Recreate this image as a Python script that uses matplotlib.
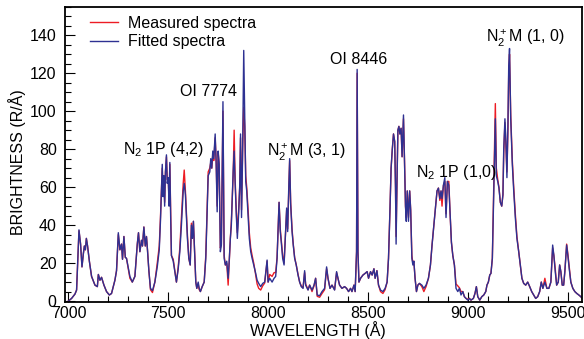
import matplotlib
matplotlib.use("Agg")
import matplotlib.pyplot as plt
from matplotlib.ticker import MultipleLocator

plt.rcParams['font.family'] = ['Liberation Sans', 'DejaVu Sans']
plt.rcParams['mathtext.fontset'] = 'custom'
plt.rcParams['mathtext.rm'] = 'Liberation Sans'
plt.rcParams['mathtext.it'] = 'Liberation Sans:italic'

# wavelength grid (Angstrom)
wavelength = [
    7000, 7016, 7033, 7041, 7053, 7061, 7068, 7075, 7080, 7085,
    7090, 7096, 7105, 7116, 7133, 7145, 7150, 7158, 7166, 7178,
    7191, 7205, 7216, 7233, 7241, 7250, 7258, 7266, 7271, 7278,
    7285, 7291, 7308, 7320, 7333, 7345, 7351, 7358, 7366, 7371,
    7378, 7385, 7391, 7396, 7403, 7411, 7421, 7433, 7445, 7455,
    7461, 7466, 7470, 7474, 7478, 7482, 7486, 7491, 7495, 7500,
    7504, 7508, 7512, 7516, 7525, 7533, 7541, 7550, 7558, 7566,
    7575, 7580, 7586, 7596, 7603, 7610, 7616, 7621, 7626, 7633,
    7638, 7643, 7650, 7655, 7661, 7670, 7680, 7688, 7695, 7700,
    7708, 7713, 7718, 7723, 7728, 7735, 7740, 7745, 7750, 7755,
    7761, 7766, 7774, 7780, 7786, 7793, 7800, 7806, 7811, 7816,
    7825, 7830, 7835, 7841, 7846, 7853, 7858, 7862, 7867, 7872,
    7878, 7883, 7888, 7893, 7900, 7906, 7913, 7920, 7928, 7936,
    7945, 7953, 7963, 7973, 7983, 7995, 8000, 8008, 8020, 8030,
    8038, 8045, 8055, 8061, 8066, 8073, 8080, 8086, 8093, 8098,
    8103, 8108, 8113, 8120, 8126, 8133, 8141, 8150, 8158, 8166,
    8175, 8183, 8188, 8200, 8208, 8220, 8230, 8238, 8246, 8258,
    8270, 8283, 8293, 8300, 8310, 8320, 8333, 8343, 8350, 8358,
    8370, 8383, 8393, 8403, 8413, 8420, 8430, 8436, 8443, 8446,
    8450, 8455, 8463, 8475, 8486, 8496, 8503, 8513, 8521, 8530,
    8536, 8545, 8553, 8563, 8575, 8586, 8596, 8603, 8610, 8616,
    8622, 8628, 8634, 8638, 8641, 8645, 8650, 8655, 8660, 8666,
    8671, 8678, 8683, 8688, 8692, 8697, 8703, 8709, 8714, 8720,
    8725, 8730, 8736, 8743, 8750, 8758, 8770, 8780, 8791, 8803,
    8813, 8821, 8830, 8838, 8846, 8853, 8860, 8866, 8871, 8878,
    8885, 8891, 8898, 8905, 8911, 8918, 8925, 8933, 8941, 8950,
    8958, 8966, 8975, 8983, 8991, 9000, 9008, 9016, 9028, 9036,
    9043, 9050, 9060, 9070, 9080, 9090, 9096, 9103, 9110, 9116,
    9123, 9130, 9138, 9143, 9150, 9156, 9163, 9170, 9176, 9180,
    9186, 9191, 9196, 9201, 9205, 9209, 9215, 9223, 9230, 9238,
    9246, 9255, 9263, 9271, 9280, 9290, 9300, 9310, 9320, 9330,
    9340, 9350, 9360, 9368, 9376, 9386, 9396, 9406, 9416, 9425,
    9431, 9438, 9445, 9453, 9460, 9466, 9473, 9480, 9486, 9495,
    9501, 9508, 9516, 9526, 9536, 9546, 9556, 9566, 9576,
]

# fitted spectrum (blue), R/A
fitted = [
    0, 1.4, 3.7, 5.8, 37.5, 30, 18, 25, 29, 27,
    33, 29, 21, 13, 8.4, 7.6, 14, 11, 12.5, 8.4,
    5, 3.2, 4, 11, 16, 36, 27, 30, 22, 34,
    23, 22.5, 13, 10, 13, 30, 36, 26, 32, 29,
    39, 29, 34, 27, 16, 6.7, 5.5, 10, 18, 27,
    42, 58, 72, 55, 66, 50, 68, 77, 62, 65,
    50, 73, 45, 24, 21, 15.5, 10, 17, 26, 40,
    58, 62, 56, 33, 22.5, 19, 40, 33, 42, 22.5,
    10, 6.7, 10, 6.7, 5, 7.6, 10, 22.5, 47, 66,
    68, 75, 70, 79, 75, 88, 72, 47, 79, 72,
    26, 29.5, 105, 22.5, 19, 21, 12, 22.5, 33, 40,
    68, 79, 62, 45, 33, 47, 61, 88, 44, 75,
    132, 96, 63, 58, 44, 33, 26, 22.5, 19, 15.5,
    11, 9.3, 7.6, 9.3, 10, 21.6, 10, 12, 10, 12,
    13, 22.5, 52, 36.6, 31, 22.5, 19, 33, 49, 36.6,
    58, 75, 51, 36.6, 29.5, 22.5, 19, 13.7, 10, 7.6,
    6.7, 16, 8.4, 5.8, 8.4, 5.8, 8.4, 12, 3.2, 2.8,
    5, 6.7, 18, 12, 6.7, 8.4, 5.8, 15.5, 12, 8.4,
    6.7, 7.6, 6.7, 5, 6.7, 5, 8.4, 5, 26, 122,
    26, 10, 12, 13.7, 14.6, 15.5, 12, 15.5, 13.7, 17,
    12, 16, 8.4, 5.8, 5, 6.7, 10, 22.5, 47, 70,
    80, 88, 84, 60, 30, 60, 90, 92, 88, 91,
    76, 98, 75, 50, 42, 58, 42, 58, 48, 22.5,
    19, 21, 12, 5, 8.4, 9.3, 8.4, 6.7, 8.4, 12,
    19, 29.5, 40, 49, 58, 59.5, 54, 58, 54, 61,
    65, 44, 63, 61, 47, 31, 24, 19, 6.7, 5,
    6.7, 3.2, 5, 2.3, 1.4, 0.5, 1.4, 0.5, 1.4, 4,
    7.6, 2.3, 0.5, 2.3, 3.2, 5, 8.4, 10, 13.7, 14.6,
    22.5, 58, 96, 66, 63, 59.5, 52, 50, 56, 80,
    96, 84, 65, 93, 124, 133, 96, 72, 58, 44,
    33, 26, 19, 12, 9.3, 8.4, 10, 7.6, 5, 3.2,
    1.4, 2.3, 5, 10, 6.7, 10, 6.7, 6.7, 10, 29.5,
    24, 15.5, 8.4, 10, 19, 15.5, 8.4, 8.4, 15.5, 29.5,
    24, 17, 10, 6.7, 5, 4, 3.2, 2.3, 1,
]

# measured spectrum (red), R/A
measured = [
    0, 1.4, 3.7, 5.8, 37, 30, 18, 25, 29, 27,
    33, 29, 21, 13, 8.4, 7.6, 14, 11, 12.5, 8.4,
    5, 3.2, 4, 11, 16, 35, 27, 30, 22, 34,
    23, 22.5, 12, 10, 13, 30, 36, 26, 32, 29,
    39, 29, 34, 27, 16, 6, 4.5, 10, 20, 29,
    44, 58, 70, 57, 66, 52, 68, 76, 64, 65,
    52, 72, 47, 24, 22, 16, 10, 18, 28, 44,
    62, 69, 58, 35, 22.5, 19, 41, 33, 42, 22.5,
    10, 6.7, 9, 6, 5, 7.6, 10, 24, 50, 68,
    70, 73, 70, 77, 74, 86, 74, 50, 78, 72,
    28, 30, 100, 24, 19, 20, 8.4, 22.5, 33, 42,
    66, 90, 64, 47, 36, 49, 60, 86, 48, 78,
    102, 92, 66, 60, 48, 36, 28, 24, 20, 15,
    9, 6.7, 5.8, 8, 9.5, 21, 10, 14, 13, 15,
    15, 23, 52, 38, 32, 24, 20, 33, 48, 38,
    57, 74, 52, 38, 30, 23, 19, 14, 10, 8,
    7, 15, 9, 6, 8.4, 5, 8, 12, 2.5, 2,
    4, 6, 17, 12, 6.7, 8.4, 6, 15, 12, 8.4,
    6.7, 7.6, 6.7, 5, 6.7, 5, 8.4, 5, 26, 120,
    26, 10, 12, 13.7, 14.6, 15.5, 12, 15.5, 13.7, 17,
    12, 16, 8.4, 5, 4, 6, 10, 22.5, 47, 70,
    80, 88, 84, 60, 34, 60, 90, 92, 88, 91,
    76, 96, 75, 50, 44, 58, 44, 58, 48, 24,
    20, 21, 12, 5, 8.4, 9.3, 7.6, 5, 7.6, 12,
    19, 29.5, 40, 49, 58, 59.5, 53, 58, 50, 61,
    63, 46, 63, 63, 47, 31, 24, 19, 9, 8,
    7, 5, 5, 2.3, 1.4, 1, 1.4, 0.5, 1.4, 4,
    7.6, 2.3, 0.5, 2.3, 3.2, 5, 8.4, 10, 13.7, 14.6,
    22.5, 60, 104, 70, 64, 60, 52, 50, 56, 78,
    94, 82, 68, 90, 120, 130, 98, 74, 60, 46,
    34, 26, 19, 12, 9.3, 8.4, 10, 7.6, 5, 3.2,
    1.4, 2.3, 5, 10, 6.7, 12, 6.7, 6.7, 10, 28,
    24, 17, 8.4, 10, 19, 15.5, 8.4, 8.4, 15.5, 30,
    25, 18, 10, 6.7, 5, 4, 3.2, 2.3, 1,
]

# line labels: (text, wavelength, brightness, alignment)
labels = [
    ("N$_2$ 1P (4,2)", 7273, 77.6, 'left'),
    ("OI 7774", 7700, 107.8, 'center'),
    ("N$_2^+$M (3, 1)", 7993, 76.2, 'left'),
    ("OI 8446", 8455, 124.9, 'center'),
    ("N$_2$ 1P (1,0)", 8741, 65.6, 'left'),
    ("N$_2^+$M (1, 0)", 9091, 136, 'left'),
]

fs = 11.5
fig = plt.figure(figsize=(5.84, 3.39), dpi=100)
ax = fig.add_axes([0.1113, 0.1091, 0.8853, 0.871])

ax.plot(wavelength, measured, color='#ed1c24', lw=1.0, label='Measured spectra')
ax.plot(wavelength, fitted, color='#2e3192', lw=1.0, label='Fitted spectra')

ax.set_xlim(6983, 9572)
ax.set_ylim(-0.5, 155)
ax.xaxis.set_major_locator(MultipleLocator(500))
ax.xaxis.set_minor_locator(MultipleLocator(100))
ax.yaxis.set_major_locator(MultipleLocator(20))
ax.yaxis.set_minor_locator(MultipleLocator(5))
ax.tick_params(which='both', direction='in', top=False, right=False, labelsize=fs, width=0.8)
ax.tick_params(which='major', length=7)
ax.tick_params(which='minor', length=4)
ax.tick_params(axis='x', pad=3)
ax.tick_params(axis='y', pad=6)
for s in ax.spines.values():
    s.set_linewidth(1.3)

ax.set_xlabel('WAVELENGTH (Å)', fontsize=fs)
ax.set_ylabel('BRIGHTNESS (R/Å)', fontsize=fs)
ax.xaxis.set_label_coords(0.49, -0.064)
ax.yaxis.set_label_coords(-0.075, 0.475)

for txt, x, y, ha in labels:
    ax.text(x, y, txt, fontsize=fs, ha=ha, va='baseline')

ax.legend(loc='upper left', bbox_to_anchor=(90 / 584, 1 - 16 / 339),
          bbox_transform=fig.transFigure, frameon=False, fontsize=fs,
          borderpad=0, borderaxespad=0, handlelength=1.75,
          handletextpad=0.6, labelspacing=0.2)

fig.savefig('out.png', dpi=100)
